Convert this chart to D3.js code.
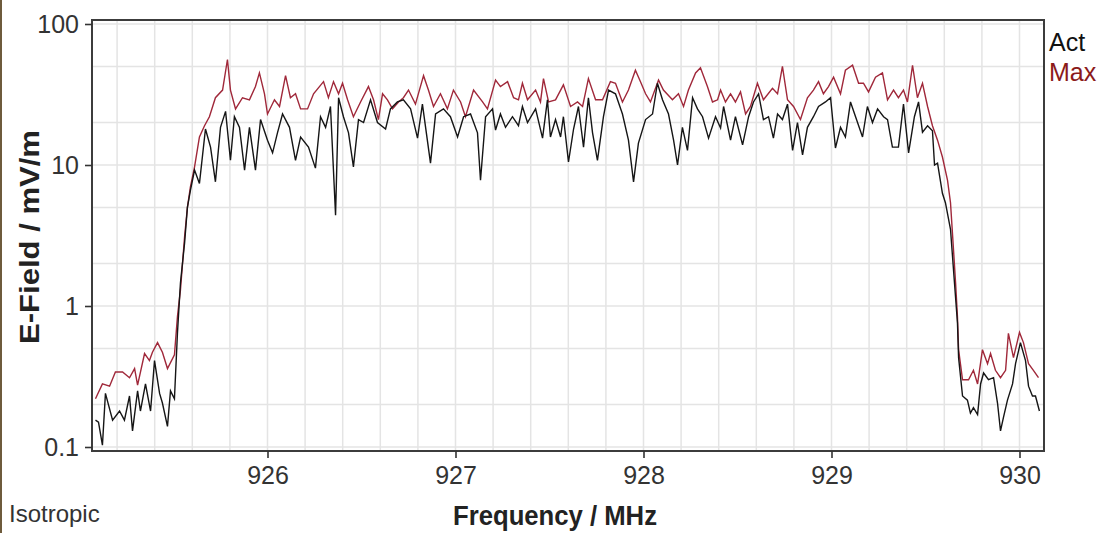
<!DOCTYPE html>
<html>
<head>
<meta charset="utf-8">
<script src="https://cdn.jsdelivr.net/npm/d3@7"></script>
<style>
  body { margin: 0; background: #fff; }
  svg { display: block; font-family: "Liberation Sans", Arial, sans-serif; }
</style>
</head>
<body>
<div id="chart"></div>
<script>
// sweep readings, frequency in MHz, field strength in mV/m
const maxFreq = [925.085,925.122,925.160,925.191,925.229,925.266,925.293,925.309,925.346,925.372,
  925.388,925.415,925.441,925.468,925.505,925.521,925.537,925.559,925.574,925.590,
  925.612,925.638,925.665,925.691,925.723,925.761,925.787,925.803,925.830,925.867,
  925.904,925.936,925.957,925.984,926.000,926.037,926.064,926.096,926.122,926.149,
  926.176,926.213,926.245,926.298,926.324,926.351,926.378,926.399,926.426,926.457,
  926.495,926.537,926.564,926.590,926.612,926.638,926.665,926.697,926.723,926.750,
  926.787,926.830,926.856,926.883,926.920,926.957,926.989,927.027,927.053,927.096,
  927.144,927.170,927.213,927.239,927.277,927.309,927.335,927.356,927.383,927.426,
  927.452,927.468,927.495,927.532,927.574,927.612,927.649,927.676,927.707,927.745,
  927.782,927.824,927.851,927.888,927.920,927.957,927.984,928.011,928.037,928.080,
  928.106,928.154,928.186,928.213,928.239,928.277,928.303,928.340,928.367,928.394,
  928.410,928.436,928.463,928.489,928.516,928.543,928.569,928.606,928.638,928.686,
  928.713,928.739,928.766,928.798,928.835,928.872,928.904,928.931,928.957,928.984,
  929.011,929.048,929.074,929.112,929.144,929.170,929.197,929.234,929.271,929.298,
  929.330,929.356,929.383,929.404,929.431,929.457,929.484,929.511,929.537,929.564,
  929.590,929.617,929.633,929.649,929.660,929.670,929.676,929.697,929.729,929.755,
  929.777,929.803,929.830,929.846,929.872,929.899,929.926,929.941,929.968,930.000,
  930.021,930.048,930.074,930.101];
const maxValues = [0.22,0.28,0.27,0.34,0.34,0.31,0.36,0.275,0.46,0.41,
  0.47,0.55,0.47,0.36,0.45,0.84,1.3,3.1,5.0,7.0,
  9.7,15.8,19,22,30,34,56,34,25,30,
  29,36,45,32,23,29,26,43,30,32,
  25,25,32,39,30,39,32,38,29,22,
  28,36,29,21,32,29,25,28,30,34,
  27,43,34,26,32,25,34,28,22,34,
  28,25,40,36,39,30,29,38,29,34,
  28,41,28,29,37,26,28,26,41,29,
  29,39,38,28,34,47,39,32,28,40,
  34,29,32,26,34,45,49,36,28,29,
  34,28,32,28,33,23,26,38,29,35,
  32,50,29,26,21,30,34,39,32,36,
  42,32,47,51,38,38,33,42,45,29,
  34,30,34,28,51,30,38,26,19,15,
  11.4,7.8,5.4,2.5,1.46,0.84,0.49,0.30,0.30,0.35,
  0.28,0.49,0.39,0.46,0.35,0.31,0.35,0.64,0.43,0.65,
  0.55,0.39,0.35,0.31];

const actFreq = [925.085,925.101,925.122,925.138,925.176,925.213,925.239,925.266,925.282,925.309,
  925.324,925.351,925.378,925.399,925.426,925.441,925.468,925.484,925.505,925.521,
  925.537,925.559,925.574,925.590,925.612,925.638,925.670,925.697,925.723,925.750,
  925.777,925.803,925.824,925.851,925.878,925.904,925.936,925.963,926.000,926.027,
  926.053,926.080,926.117,926.149,926.176,926.218,926.255,926.282,926.309,926.335,
  926.362,926.378,926.404,926.431,926.457,926.484,926.511,926.548,926.585,926.628,
  926.654,926.691,926.723,926.761,926.798,926.824,926.867,926.894,926.936,926.973,
  927.011,927.043,927.080,927.117,927.133,927.160,927.197,927.213,927.239,927.266,
  927.303,927.335,927.356,927.383,927.426,927.463,927.489,927.505,927.532,927.559,
  927.574,927.601,927.628,927.654,927.681,927.707,927.729,927.755,927.787,927.814,
  927.851,927.888,927.920,927.947,927.973,928.011,928.048,928.074,928.101,928.133,
  928.160,928.181,928.207,928.234,928.261,928.287,928.314,928.346,928.383,928.410,
  928.426,928.463,928.489,928.527,928.559,928.585,928.612,928.638,928.665,928.691,
  928.713,928.739,928.766,928.793,928.819,928.846,928.872,928.904,928.931,928.968,
  928.995,929.021,929.048,929.074,929.101,929.128,929.165,929.191,929.218,929.245,
  929.277,929.298,929.324,929.356,929.383,929.410,929.441,929.463,929.484,929.511,
  929.537,929.548,929.564,929.590,929.606,929.633,929.649,929.670,929.676,929.697,
  929.723,929.739,929.755,929.777,929.793,929.809,929.835,929.862,929.883,929.899,
  929.915,929.936,929.963,929.979,930.005,930.032,930.048,930.069,930.085,930.106];
const actValues = [0.155,0.15,0.103,0.24,0.155,0.18,0.155,0.23,0.13,0.25,
  0.18,0.28,0.18,0.41,0.24,0.205,0.14,0.25,0.22,0.64,
  1.46,2.8,5.0,6.6,9.2,7.4,18,13.4,7.6,18.5,
  24,10.8,22,18.5,9.2,18.5,9.2,21,15,12.2,
  16.9,23,18.5,10.8,15.8,13.4,9.5,22,18.5,26,
  4.4,30,22,16.9,9.7,21,20,29,20,18,
  25,28,29,25,15.5,27,10.3,23,25,22,
  15.8,22,23,16.9,7.8,22,25,17.7,23,18.5,
  22,19,26,20,25,15.5,29,15.8,21,15.8,
  22,10.5,18,26,13.4,30,16.9,10.8,22,34,
  32,23,15,7.6,14.3,21,23,38,29,23,
  15,10,18.5,12.7,30,25,22,15.5,22,18.3,
  26,15,22,13.9,22,28,32,21,22,15.5,
  23,21,27,12.7,20,11.8,18.5,22,26,28,
  30,13.2,18.5,15.8,28,22,15.8,26,20,25,
  22,21,13.4,13.4,27,12.2,22,28,17.1,19,
  17.5,10,10.3,6.3,5.4,3.5,1.8,0.76,0.43,0.23,
  0.215,0.174,0.19,0.17,0.28,0.335,0.30,0.31,0.205,0.13,
  0.163,0.215,0.28,0.39,0.55,0.41,0.27,0.23,0.23,0.18];

const xTicks = [926, 927, 928, 929, 930];
const yTicks = [0.1, 1, 10, 100];
const xGrid = [925.2,925.4,925.6,925.8,926,926.2,926.4,926.6,926.8,927,927.2,927.4,927.6,927.8,
  928,928.2,928.4,928.6,928.8,929,929.2,929.4,929.6,929.8,930];
const yGrid = [0.1,0.2,0.5,1,2,5,10,20,50,100];

const width = 1103, height = 533;
const plot = {left: 92, right: 1044, top: 20, bottom: 451};

const svg = d3.select("#chart").append("svg")
  .attr("width", width)
  .attr("height", height);

svg.append("rect").attr("width", width).attr("height", height).attr("fill", "#fff");
// brownish edge on the left of the screenshot
svg.append("rect").attr("x", 0).attr("y", 0).attr("width", 2).attr("height", height).attr("fill", "#6e5b3c");

const x = d3.scaleLinear().domain([926, 930]).range([267.5, 1019.5]);
const y = d3.scaleLog().domain([0.1, 100]).range([447, 24]);

svg.append("defs").append("clipPath").attr("id", "clip")
  .append("rect")
  .attr("x", plot.left).attr("y", plot.top)
  .attr("width", plot.right - plot.left).attr("height", plot.bottom - plot.top);

// grid
const grid = svg.append("g").attr("stroke", "#e4e4e4").attr("stroke-width", 1.5);
grid.selectAll("line.gx").data(xGrid).join("line")
  .attr("class", "gx")
  .attr("x1", d => x(d)).attr("x2", d => x(d))
  .attr("y1", plot.top).attr("y2", plot.bottom);
grid.selectAll("line.gy").data(yGrid).join("line")
  .attr("class", "gy")
  .attr("x1", plot.left).attr("x2", plot.right)
  .attr("y1", d => y(d)).attr("y2", d => y(d));

// traces
const line = d3.line().x(d => x(d[0])).y(d => y(d[1]));
const maxData = maxFreq.map((f, i) => [f, maxValues[i]]);
const actData = actFreq.map((f, i) => [f, actValues[i]]);

const traces = svg.append("g").attr("clip-path", "url(#clip)").attr("fill", "none");
traces.append("path").datum(maxData)
  .attr("d", line)
  .attr("stroke", "#a0283a")
  .attr("stroke-width", 1.4);
traces.append("path").datum(actData)
  .attr("d", line)
  .attr("stroke", "#151515")
  .attr("stroke-width", 1.4);

// frame
svg.append("rect")
  .attr("x", plot.left).attr("y", plot.top)
  .attr("width", plot.right - plot.left).attr("height", plot.bottom - plot.top)
  .attr("fill", "none").attr("stroke", "#3c3c3c").attr("stroke-width", 2);

// axes
const yAxis = svg.append("g")
  .attr("transform", `translate(${plot.left},0)`)
  .call(d3.axisLeft(y).tickValues(yTicks).tickFormat(d3.format("~g")).tickSize(7).tickPadding(6));
const xAxis = svg.append("g")
  .attr("transform", `translate(0,${plot.bottom})`)
  .call(d3.axisBottom(x).tickValues(xTicks).tickFormat(d3.format("d")).tickSize(7).tickPadding(8));

[yAxis, xAxis].forEach(a => {
  a.select(".domain").remove();
  a.selectAll(".tick line").attr("stroke", "#333").attr("stroke-width", 1.6);
  a.selectAll(".tick text")
    .attr("fill", "#333")
    .style("font-size", "25px")
    .style("font-family", "'Liberation Sans', Arial, sans-serif");
});

// titles
svg.append("text")
  .attr("transform", "translate(39,237) rotate(-90)")
  .attr("text-anchor", "middle")
  .attr("font-size", 27)
  .attr("font-weight", "bold")
  .attr("fill", "#222")
  .attr("textLength", 214)
  .attr("lengthAdjust", "spacingAndGlyphs")
  .text("E-Field / mV/m");

svg.append("text")
  .attr("x", 555).attr("y", 525)
  .attr("text-anchor", "middle")
  .attr("font-size", 27)
  .attr("font-weight", "bold")
  .attr("fill", "#222")
  .attr("textLength", 204)
  .attr("lengthAdjust", "spacingAndGlyphs")
  .text("Frequency / MHz");

svg.append("text")
  .attr("x", 9).attr("y", 522)
  .attr("font-size", 24)
  .attr("fill", "#333")
  .text("Isotropic");

// legend
svg.append("text").attr("x", 1049).attr("y", 51)
  .attr("font-size", 25).attr("fill", "#111").text("Act");
svg.append("text").attr("x", 1049).attr("y", 81)
  .attr("font-size", 25).attr("fill", "#8b1a1a").text("Max");
</script>
</body>
</html>
